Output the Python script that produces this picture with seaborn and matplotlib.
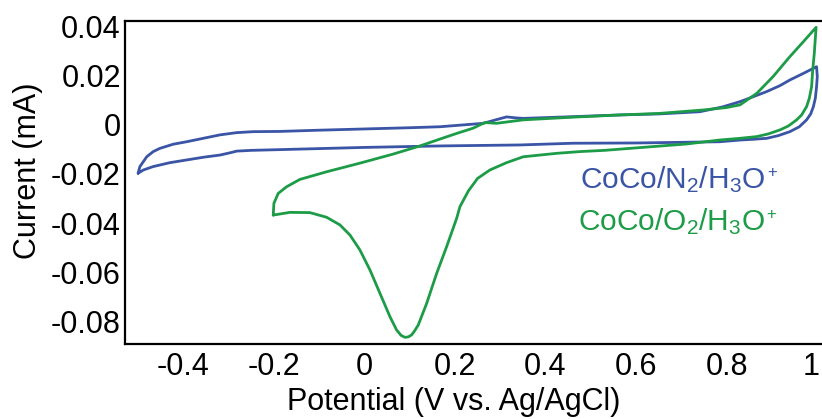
import matplotlib
matplotlib.use("Agg")
import matplotlib.pyplot as plt
import matplotlib.transforms as mtransforms
import seaborn as sns
import pandas as pd

# ---------------- data ----------------
n2_potential = [-0.500, -0.4961, -0.481, -0.4667, -0.452, -0.4225, -0.393, -0.356, -0.319, -0.2825,
                -0.246, -0.187, -0.100, 0.000, 0.100, 0.167, 0.263, 0.290, 0.314, 0.335,
                0.351, 0.461, 0.565, 0.650, 0.741, 0.790, 0.830, 0.859, 0.889, 0.918,
                0.940, 0.970, 0.999,
                1.0006, 0.999, 0.9963, 0.992, 0.986, 0.977, 0.961, 0.940, 0.9145, 0.889,
                0.859, 0.830, 0.785, 0.600, 0.461, 0.344, 0.167, 0.000, -0.187, -0.250,
                -0.282, -0.2972, -0.319, -0.356, -0.393, -0.4298, -0.467, -0.4888, -0.500]
n2_current = [-0.0169, -0.0142, -0.0102, -0.0081, -0.0068, -0.0051, -0.0041, -0.0027, -0.0013, -0.0004,
              0.0000, 0.0001, 0.0006, 0.0011, 0.0016, 0.0020, 0.0034, 0.0048, 0.0060, 0.0056,
              0.0054, 0.0061, 0.0068, 0.0072, 0.0081, 0.0100, 0.0122, 0.0142, 0.0163, 0.0187,
              0.0210, 0.0237, 0.0264,
              0.0224, 0.0183, 0.0136, 0.0102, 0.0072, 0.0048, 0.0020, 0.0000, -0.0016, -0.0027,
              -0.0031, -0.0034, -0.0041, -0.0046, -0.0047, -0.0054, -0.0058, -0.0064, -0.0073, -0.0076,
              -0.0079, -0.0086, -0.0095, -0.0104, -0.0115, -0.0126, -0.0142, -0.0156, -0.0169]

o2_potential = [-0.2015, -0.200, -0.1905, -0.172, -0.1425, -0.0835, -0.010, 0.0637, 0.1227, 0.167,
                0.204, 0.240, 0.266, 0.292, 0.351, 0.461, 0.565, 0.650, 0.748, 0.800,
                0.830, 0.867, 0.903, 0.940, 0.970, 0.998,
                0.996, 0.994, 0.9905, 0.988, 0.983, 0.977, 0.966, 0.955, 0.9366, 0.918,
                0.8925, 0.867, 0.830, 0.785, 0.712, 0.600, 0.530, 0.476, 0.425, 0.388,
                0.351, 0.314, 0.277, 0.250, 0.230, 0.211, 0.2038, 0.1817, 0.1596, 0.1375,
                0.1189, 0.1100, 0.1043, 0.097, 0.0895, 0.081, 0.0711, 0.0564, 0.0343, 0.0122,
                -0.0099, -0.032, -0.0541, -0.0835, -0.1204, -0.1646, -0.2015]
o2_current = [-0.0339, -0.0291, -0.0251, -0.0224, -0.0194, -0.0163, -0.0128, -0.0091, -0.0058, -0.0030,
              -0.0007, 0.0014, 0.0037, 0.0034, 0.0048, 0.0059, 0.0068, 0.0074, 0.0088, 0.0098,
              0.0109, 0.0156, 0.0224, 0.0305, 0.0366, 0.0424,
              0.0373, 0.0319, 0.0251, 0.0183, 0.0136, 0.0102, 0.0068, 0.0048, 0.0023, 0.0007,
              -0.0009, -0.0020, -0.0027, -0.0034, -0.0050, -0.0066, -0.0076, -0.0081, -0.0088, -0.0095,
              -0.0102, -0.0126, -0.0156, -0.0190, -0.0240, -0.0305, -0.0352, -0.0467, -0.0576, -0.0698,
              -0.0786, -0.0812, -0.0826, -0.0834, -0.0836, -0.0828, -0.0806, -0.0752, -0.0657, -0.0562,
              -0.0481, -0.0420, -0.0379, -0.0348, -0.0329, -0.0328, -0.0339]

x_ticks = [-0.4, -0.2, 0, 0.2, 0.4, 0.6, 0.8, 1.0]
x_tick_labels = ['-0.4', '-0.2', '0', '0.2', '0.4', '0.6', '0.8', '1']
y_ticks = [-0.08, -0.06, -0.04, -0.02, 0, 0.02, 0.04]
y_tick_labels = ['-0.08', '-0.06', '-0.04', '-0.02', '0', '0.02', '0.04']

label_n2 = r'CoCo/N$_2$/H$_3$O'
label_o2 = r'CoCo/O$_2$/H$_3$O'
charge = '+'
x_label = 'Potential (V vs. Ag/AgCl)'
y_label = 'Current (mA)'

blue = '#3a54a6'
green = '#1d9c48'

# ---------------- style ----------------
sns.set_style('white')
plt.rcParams['font.family'] = ['Liberation Sans', 'DejaVu Sans']
plt.rcParams['mathtext.fontset'] = 'custom'
plt.rcParams['mathtext.rm'] = 'Liberation Sans'
plt.rcParams['mathtext.it'] = 'Liberation Sans'
plt.rcParams['axes.unicode_minus'] = False
plt.rcParams['text.color'] = 'black'
plt.rcParams['axes.labelcolor'] = 'black'

fig = plt.figure(figsize=(8.22, 4.19), dpi=100)
ax = fig.add_axes([125 / 822, 75 / 419, 697 / 822, 323.3 / 419])

df_n2 = pd.DataFrame({'Potential': n2_potential, 'Current': n2_current})
df_o2 = pd.DataFrame({'Potential': o2_potential, 'Current': o2_current})

sns.lineplot(data=df_n2, x='Potential', y='Current', sort=False, estimator=None,
             color=blue, linewidth=2.0, ax=ax)
sns.lineplot(data=df_o2, x='Potential', y='Current', sort=False, estimator=None,
             color=green, linewidth=2.0, ax=ax)

ax.set_xlim(-0.529, 1.011)
ax.set_ylim(-0.0863, 0.0451)

ax.set_xticks(x_ticks)
ax.set_xticklabels(x_tick_labels)
ax.set_yticks(y_ticks)
ax.set_yticklabels(y_tick_labels)

ax.tick_params(axis='both', direction='in', length=4, width=1.5, labelsize=22,
               colors='black')
ax.tick_params(axis='y', pad=3)
ax.tick_params(axis='x', pad=6)

for side in ['left', 'bottom', 'top']:
    ax.spines[side].set_visible(True)
    ax.spines[side].set_linewidth(1.6)
    ax.spines[side].set_color('black')
ax.spines['right'].set_visible(False)

# y tick labels sit slightly above their ticks in the reference
offset = mtransforms.ScaledTranslation(0, 7 / 100, fig.dpi_scale_trans)
for lab in ax.get_yticklabels():
    lab.set_transform(lab.get_transform() + offset)
# last x tick label nudged left to stay inside the figure
xl = ax.get_xticklabels()[-1]
xl.set_transform(xl.get_transform() + mtransforms.ScaledTranslation(-6 / 100, 0, fig.dpi_scale_trans))

ax.set_xlabel(x_label, fontsize=22)
ax.set_ylabel(y_label, fontsize=22)
ax.xaxis.set_label_coords(0.471, -0.133)
ax.yaxis.set_label_coords(-0.118, 0.535)

t1 = ax.text(0.653, 0.4825, label_n2, transform=ax.transAxes, color=blue,
             fontsize=21.5, ha='left', va='baseline')
t2 = ax.text(0.650, 0.3526, label_o2, transform=ax.transAxes, color=green,
             fontsize=21.5, ha='left', va='baseline')
for t, c in [(t1, blue), (t2, green)]:
    ax.annotate(charge, xy=(1.0, 1.0), xycoords=t, xytext=(1, -1), textcoords='offset points',
                fontsize=12, color=c, ha='left', va='top')

fig.savefig('out.png', dpi=100)
